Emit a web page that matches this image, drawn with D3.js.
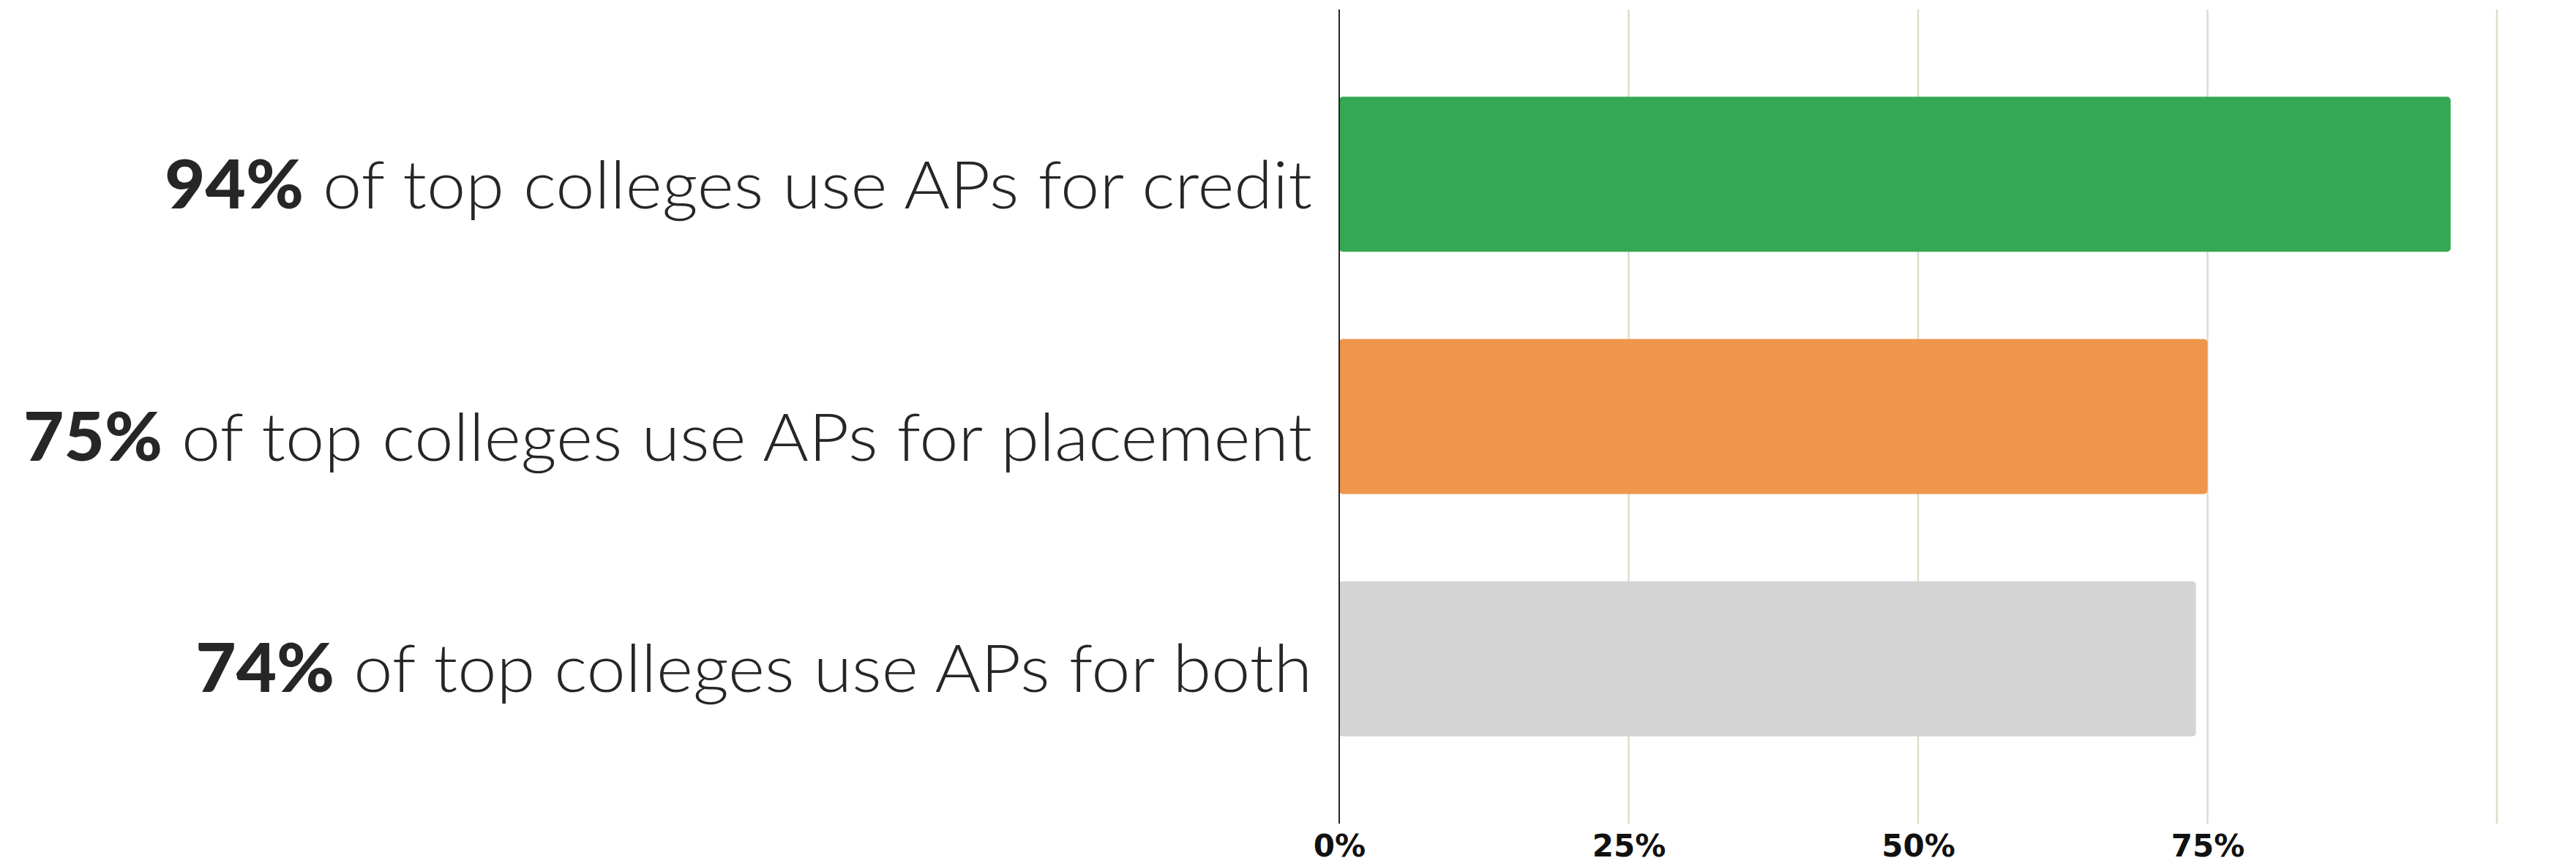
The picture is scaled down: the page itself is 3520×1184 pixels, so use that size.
<!DOCTYPE html>
<html>
<head>
<meta charset="utf-8">
<script src="https://cdn.jsdelivr.net/npm/d3@7"></script>
<style>
  html, body { margin: 0; padding: 0; background: #ffffff; }
  svg { display: block; }
</style>
</head>
<body>
<svg id="chart" width="3520" height="1184"></svg>
<script>
// ---- data ----
const categories = ["credit", "placement", "both"];
const values = [96, 75, 74];
const labelPercents = ["94%", "75%", "74%"];
const labelTexts = [" of top colleges use APs for credit", " of top colleges use APs for placement", " of top colleges use APs for both"];
const colors = ["#34a853", "#ee964b", "#d4d4d4"];
const tickValues = [0, 25, 50, 75, 100];
const tickLabels = ["0%", "25%", "50%", "75%", ""];

// ---- layout ----
const plotLeft = 1830, plotRight = 3412, plotTop = 13, plotBottom = 1126;
const svg = d3.select("#chart");

const x = d3.scaleLinear().domain([0, 100]).range([plotLeft, plotRight]);
const y = d3.scaleBand().domain(categories).range([plotTop, plotBottom]).padding(0.36);

// gridlines
svg.append("g").selectAll("line").data(tickValues.slice(1)).join("line")
  .attr("x1", d => x(d)).attr("x2", d => x(d))
  .attr("y1", plotTop).attr("y2", plotBottom)
  .attr("stroke", "#dcdccb").attr("stroke-width", 2.5);

// bars
svg.append("g").selectAll("rect").data(categories).join("rect")
  .attr("x", x(0))
  .attr("y", d => y(d))
  .attr("width", (d, i) => x(values[i]) - x(0))
  .attr("height", y.bandwidth())
  .attr("rx", 5).attr("ry", 5)
  .attr("fill", (d, i) => colors[i]);

// axis line (zero)
svg.append("line")
  .attr("x1", x(0)).attr("x2", x(0))
  .attr("y1", plotTop).attr("y2", plotBottom)
  .attr("stroke", "#262626").attr("stroke-width", 2);

// x tick labels
const xAxis = d3.axisBottom(x).tickValues(tickValues).tickFormat((d, i) => tickLabels[i]).tickSize(0).tickPadding(0);
const gx = svg.append("g").attr("transform", `translate(0, 1141)`).call(xAxis);
gx.select(".domain").remove();
gx.selectAll("text")
  .attr("font-family", "DejaVu Sans")
  .attr("font-weight", "bold")
  .attr("font-size", 42)
  .attr("fill", "#111111")
  .attr("dy", "0.71em");

// category labels
const nudge = [47, 60, 45];
const labels = svg.append("g").selectAll("text").data(categories).join("text")
  .attr("x", x(0) - 37)
  .attr("y", (d, i) => y(d) + y.bandwidth() / 2 + nudge[i])
  .attr("text-anchor", "end")
  .attr("font-family", "Lato, 'Open Sans', sans-serif")
  .attr("font-size", 91)
  .attr("fill", "#262626");
labels.append("tspan").attr("font-weight", 900).text((d, i) => labelPercents[i]);
labels.append("tspan").attr("font-weight", 300).text((d, i) => labelTexts[i]);

// horizontal fit so the widest label spans like the reference
const lens = labels.nodes().map(n => n.getComputedTextLength());
const k = 1761 / d3.max(lens);
labels.each(function(d, i) {
  d3.select(this).attr("textLength", lens[i] * k).attr("lengthAdjust", "spacingAndGlyphs");
});
</script>
</body>
</html>
